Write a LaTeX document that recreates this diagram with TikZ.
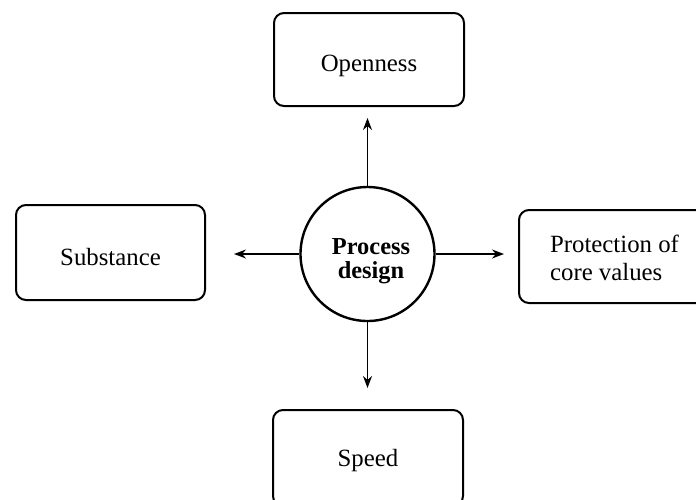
\documentclass[tikz,border=0pt]{standalone}
\usepackage{fontspec}
\setmainfont{Liberation Serif}
\usetikzlibrary{arrows.meta}
% two-line label, centred on the node with a vertical offset
\newcommand\stackedlabel[3]{\raisebox{#1}[0pt][0pt]{\begin{tabular}{@{}#2@{}}#3\end{tabular}}}
\begin{document}
\begin{tikzpicture}[x=0.5pt,y=-0.5pt,
  box/.style={draw,line width=1pt,rounded corners=5pt,inner sep=0pt,
    font=\fontsize{12.4}{14}\selectfont},
  hub/.style={draw,circle,line width=1.2pt,minimum size=67pt,inner sep=0pt,
    font=\fontsize{12.2}{11.5}\selectfont\bfseries},
  arr/.style={line width=0.75pt,-{Stealth[length=6pt,width=4.5pt]}}]
\useasboundingbox (0,0) rectangle (696,499);
\clip (0,0) rectangle (696,499);
% outer factors around the central node
\node[box,minimum width=95pt,minimum height=46.5pt,text height=14.5pt,text depth=2.5pt]
  (open) at (369,59.5) {Openness};
\node[box,minimum width=94.5pt,minimum height=47.5pt,text height=15.7pt,text depth=2.5pt]
  (sub) at (110.5,252.5) {Substance};
\node[box,minimum width=95.5pt,minimum height=46.5pt]
  (prot) at (614.5,256.5) {\stackedlabel{-5pt}{l}{Protection of\\core values}};
\node[box,minimum width=95pt,minimum height=48pt,text height=10.5pt,text depth=2.5pt]
  (speed) at (368,458) {Speed};
% central node
\node[hub] (proc) at (367.5,254) {\kern3.5pt\stackedlabel{-7pt}{c}{Process\\design}};
% arrows from the centre outwards
\draw[arr,shorten >=5.5pt] (proc.north) -- (proc.north |- open.south);
\draw[arr,shorten >=14pt] (proc.west) -- (proc.west -| sub.east);
\draw[arr,shorten >=7pt] (proc.east) -- (proc.east -| prot.west);
\draw[arr,shorten >=10.5pt] (proc.south) -- (proc.south |- speed.north);
\end{tikzpicture}
\end{document}
